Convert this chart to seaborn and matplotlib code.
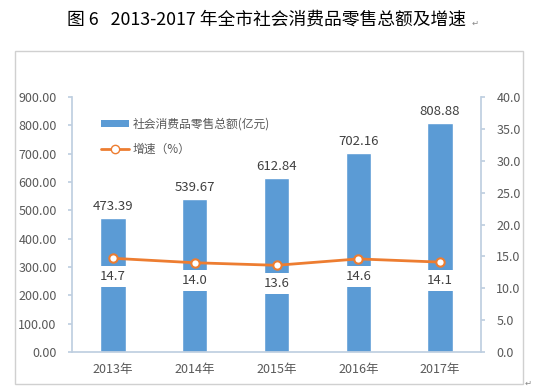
import numpy as np
import matplotlib.pyplot as plt
import seaborn as sns
from matplotlib.patches import Rectangle, Patch
from matplotlib.lines import Line2D

# 数据
years = ["2013年", "2014年", "2015年", "2016年", "2017年"]
sales = [473.39, 539.67, 612.84, 702.16, 808.88]
growth = [14.7, 14.0, 13.6, 14.6, 14.1]

bar_color = "#5B9BD5"
line_color = "#ED7D31"
text_color = "#595959"
axis_color = "#BFCFE0"

sns.set_theme(style="white")
plt.rcParams['font.family'] = ['Noto Sans CJK SC', 'DejaVu Sans']

fig = plt.figure(figsize=(5.33, 3.91), dpi=100)
fig.patch.set_facecolor("white")

# 外框
fig.patches.append(Rectangle((15 / 533, 7 / 391), 508 / 533, 333 / 391,
                             transform=fig.transFigure, fill=False,
                             edgecolor="#D0D0D0", lw=1))

fig.text(0.5, 1 - 20 / 391, "图 6   2013-2017 年全市社会消费品零售总额及增速",
         ha="center", va="center", fontsize=12.8, color="black", fontweight="medium")
fig.text(0.885, 1 - 23 / 391, "↵", ha="left", va="center", fontsize=6, color="#888888")
fig.text(0.985, 1 - 383 / 391, "↵", ha="left", va="center", fontsize=6, color="#888888")

ax = fig.add_axes([72 / 533, 39 / 391, 409 / 533, 255 / 391])
sns.barplot(x=years, y=sales, color=bar_color, width=0.31, saturation=1, ax=ax)
ax.set_ylim(0, 900)
ax.set_yticks(np.arange(0, 901, 100))
ax.set_yticklabels([f"{v:.2f}" for v in np.arange(0, 901, 100)])
ax.set_xlim(-0.5, 4.5)

for i, v in enumerate(sales):
    ax.text(i, v + 18, f"{v:.2f}", ha="center", va="bottom", fontsize=9.5, color="#404040")

ax2 = ax.twinx()
sns.lineplot(x=np.arange(len(years)), y=growth, color=line_color, lw=2,
             marker="o", markersize=6, markerfacecolor="white",
             markeredgecolor=line_color, markeredgewidth=1.5, ax=ax2)
ax2.set_ylim(0, 40)
ax2.set_yticks(np.arange(0, 41, 5))
ax2.set_yticklabels([f"{v:.1f}" for v in np.arange(0, 41, 5)])
ax2.set_xlim(-0.5, 4.5)

for i, v in enumerate(growth):
    ax2.text(i, v - 1.8, f"{v:.1f}", ha="center", va="top", fontsize=9.5, color="#404040",
             bbox=dict(boxstyle="square,pad=0.3", fc="white", ec="none"))

for a in (ax, ax2):
    for s in a.spines.values():
        s.set_visible(False)
    a.tick_params(colors=text_color, labelsize=9, length=0)
    a.set_xlabel("")
    a.set_ylabel("")
ax.spines["left"].set_visible(True)
ax.spines["left"].set_color(axis_color)
ax.spines["bottom"].set_visible(True)
ax.spines["bottom"].set_color(axis_color)
ax2.spines["right"].set_visible(True)
ax2.spines["right"].set_color(axis_color)
ax.tick_params(axis="y", length=3, color=axis_color, pad=8)
ax2.tick_params(axis="y", length=3, color=axis_color, pad=8)
ax.tick_params(axis="x", pad=8)

handles = [Patch(facecolor=bar_color, edgecolor="none"),
           Line2D([0], [0], color=line_color, lw=2, marker="o", markersize=6,
                  markerfacecolor="white", markeredgecolor=line_color)]
leg = ax.legend(handles, ["社会消费品零售总额(亿元)", "增速（%）"],
                loc="upper left", bbox_to_anchor=(0.045, 0.96), frameon=False,
                fontsize=8.5, handlelength=2.4, handleheight=0.5, labelspacing=1.0,
                handletextpad=0.3)
for t in leg.get_texts():
    t.set_color(text_color)

fig.savefig("out.png", dpi=100)
